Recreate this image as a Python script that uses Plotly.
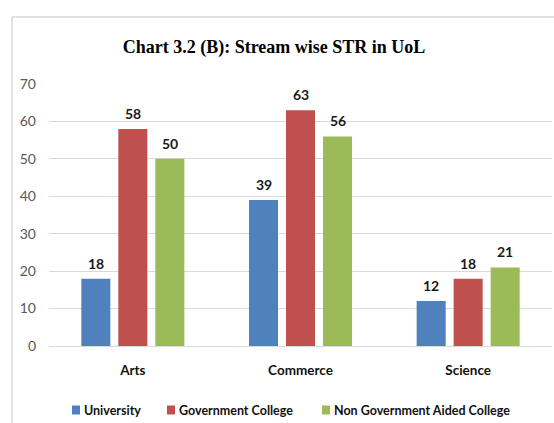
import plotly.graph_objects as go

categories = ["Arts", "Commerce", "Science"]
university = [18, 39, 12]
govt_college = [58, 63, 18]
non_govt_aided = [50, 56, 21]
series_names = ["University", "Government College", "Non Government Aided College"]
colors = ["#4f81bd", "#c0504d", "#9bbb59"]
series = [university, govt_college, non_govt_aided]

L, R, T, B = 49, 2, 84, 77
W, H = 554, 423
pw = W - L - R
ph = H - T - B
slot_px = 37  # width of one bar slot within a group


def px_x(x):
    return (x - L) / pw


def px_y(y):
    return (H - B - y) / ph


fig = go.Figure()
for name, vals, col in zip(series_names, series, colors):
    fig.add_trace(go.Bar(
        x=categories, y=vals, name=name, marker_color=col, marker_line_width=0,
    ))

# bold value labels above each bar
for i, vals in enumerate(series):
    for cat, v in zip(categories, vals):
        fig.add_annotation(x=cat, y=v, text=f"<b>{v}</b>", showarrow=False,
                           xshift=(i - 1) * slot_px, yanchor="bottom", yshift=5,
                           font=dict(family="Lato", size=14, color="#1a1a1a"))

# legend drawn as swatches + text
legend_swatch_x = [72, 167, 322]
legend_y = 410
for name, col, sx in zip(series_names, colors, legend_swatch_x):
    fig.add_shape(type="rect", xref="paper", yref="paper",
                  x0=px_x(sx), x1=px_x(sx + 8), y0=px_y(legend_y - 4.5), y1=px_y(legend_y + 4.5),
                  fillcolor=col, line=dict(width=0))
    fig.add_annotation(xref="paper", yref="paper", x=px_x(sx + 10), y=px_y(legend_y),
                       xanchor="left", yanchor="middle", showarrow=False, text=f"<b>{name}</b>",
                       font=dict(family="Lato", size=12.5, color="#111111"))

fig.update_layout(
    width=W, height=H,
    margin=dict(l=L, r=R, t=T, b=B, autoexpand=False),
    paper_bgcolor="white", plot_bgcolor="white",
    barmode="group", bargap=0.338, bargroupgap=0.216,
    title=dict(text="<b>Chart 3.2 (B): Stream wise STR in UoL</b>",
               font=dict(family="Liberation Serif", size=18, color="black"),
               x=274 / W, xanchor="center", y=1 - 47 / H, yanchor="middle"),
    showlegend=False,
    font=dict(family="Lato"),
)
fig.update_xaxes(showgrid=False, showline=True, linecolor="#d9d9d9", linewidth=1,
                 ticks="", tickfont=dict(family="Lato", size=13.5, color="#111111", weight="bold"),
                 ticklabelstandoff=12, automargin=False)
fig.update_yaxes(range=[0, 70], dtick=10, showgrid=True, gridcolor="#d9d9d9", gridwidth=1,
                 zeroline=False, showline=False, ticks="", ticklabelstandoff=12, automargin=False,
                 tickfont=dict(family="Lato", size=14, color="#595959"))

# chart-area border (top and left)
fig.add_shape(type="line", xref="paper", yref="paper",
              x0=px_x(12), x1=1.01, y0=px_y(17), y1=px_y(17),
              line=dict(color="#d9d9d9", width=1.5))
fig.add_shape(type="line", xref="paper", yref="paper",
              x0=px_x(12), x1=px_x(12), y0=px_y(17), y1=px_y(H + 5),
              line=dict(color="#d9d9d9", width=1.5))

fig.write_html("out.html", config={"displayModeBar": False},
               post_script="document.body.style.margin='0';")
